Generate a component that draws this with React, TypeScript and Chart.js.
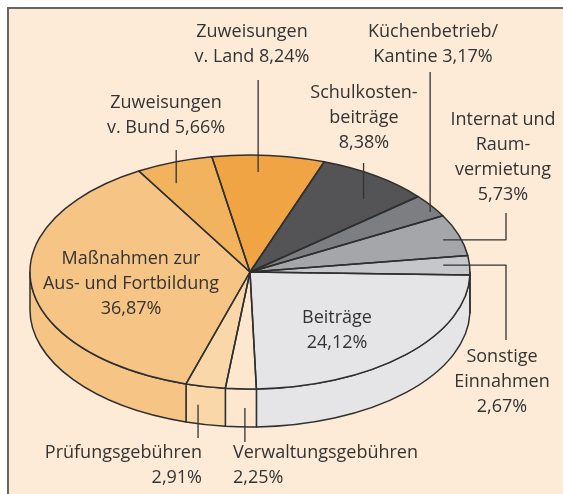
import React, { useEffect, useRef } from "react";
import { Chart, registerables } from "chart.js";

Chart.register(...registerables);

// ---------- data ----------
const categories = [
  "Beiträge",
  "Verwaltungsgebühren",
  "Prüfungsgebühren",
  "Maßnahmen zur Aus- und Fortbildung",
  "Zuweisungen v. Bund",
  "Zuweisungen v. Land",
  "Schulkostenbeiträge",
  "Küchenbetrieb/Kantine",
  "Internat und Raumvermietung",
  "Sonstige Einnahmen",
];
const shares = [24.12, 2.25, 2.91, 36.87, 5.66, 8.24, 8.38, 3.17, 5.73, 2.67];
const labelTexts: string[][] = [
  ["Beiträge", "24,12%"],
  ["Verwaltungsgebühren", "2,25%"],
  ["Prüfungsgebühren", "2,91%"],
  ["Maßnahmen zur", "Aus- und Fortbildung", "36,87%"],
  ["Zuweisungen", "v. Bund 5,66%"],
  ["Zuweisungen", "v. Land 8,24%"],
  ["Schulkosten-", "beiträge", "8,38%"],
  ["Küchenbetrieb/", "Kantine 3,17%"],
  ["Internat und", "Raum-", "vermietung", "5,73%"],
  ["Sonstige", "Einnahmen", "2,67%"],
];

// ---------- styles / layout ----------
const sliceColors = [
  "#e5e5e8",
  "#fde8cf",
  "#f9d7a8",
  "#f6c586",
  "#f2b35f",
  "#f0a443",
  "#545457",
  "#7d7e81",
  "#a5a6a9",
  "#c6c7ca",
];
const W = 563;
const H = 494;
const TILT = 117 / 220;
const DEPTH = 38;
const EDGE = "#2f2f2f";
const TEXT = "#333333";
const FONT = '18px "Open Sans"';
const LINE_H = 25;

type Lead = { t: number; r?: number; side?: number; to: number; elbow?: number };
type LabelPos = { x: number; y: number; align: CanvasTextAlign; lead?: Lead };
const labelLayout: LabelPos[] = [
  { x: 337, y: 318, align: "center" },
  { x: 233, y: 453, align: "left", lead: { t: 0.37, side: 0.5, to: 442 } },
  { x: 202, y: 453, align: "right", lead: { t: 0.69, side: 0.5, to: 438 } },
  { x: 131, y: 259, align: "center" },
  { x: 166, y: 103, align: "center", lead: { t: 0.32, r: 0.83, to: 150 } },
  { x: 252, y: 32, align: "center", lead: { t: 0.42, r: 0.856, to: 80 } },
  { x: 364, y: 93, align: "center", lead: { t: 0.66, r: 0.81, to: 163 } },
  { x: 433, y: 32, align: "center", lead: { t: 0.71, r: 0.966, to: 72 } },
  { x: 503, y: 120, align: "center", lead: { t: 0.55, r: 0.92, to: 213, elbow: 506 } },
  { x: 502, y: 357, align: "center", lead: { t: 0.44, r: 0.88, to: 340, elbow: 506 } },
];

function arcGeom(el: any) {
  const p = el.getProps(["x", "y", "startAngle", "endAngle", "outerRadius"], true);
  return { cx: p.x, cy: p.y, rx: p.outerRadius, ry: p.outerRadius * TILT, s: p.startAngle, e: p.endAngle };
}

const pie3d = {
  id: "pie3d",
  beforeDatasetsDraw(chart: any) {
    const ctx: CanvasRenderingContext2D = chart.ctx;
    const arcs = chart.getDatasetMeta(0).data;
    ctx.save();
    ctx.strokeStyle = EDGE;
    ctx.lineWidth = 1.5;
    ctx.lineJoin = "round";
    arcs.forEach((el: any, i: number) => {
      const g = arcGeom(el);
      for (let k = -1; k <= 2; k++) {
        const lo = Math.max(g.s, k * 2 * Math.PI);
        const hi = Math.min(g.e, k * 2 * Math.PI + Math.PI);
        if (hi <= lo) continue;
        ctx.beginPath();
        ctx.ellipse(g.cx, g.cy, g.rx, g.ry, 0, lo, hi, false);
        ctx.lineTo(g.cx + g.rx * Math.cos(hi), g.cy + g.ry * Math.sin(hi) + DEPTH);
        ctx.ellipse(g.cx, g.cy + DEPTH, g.rx, g.ry, 0, hi, lo, true);
        ctx.closePath();
        ctx.fillStyle = sliceColors[i];
        ctx.fill();
        ctx.stroke();
      }
    });
    ctx.restore();
    // squash the library-drawn top faces
    const cy = arcs.length ? arcGeom(arcs[0]).cy : H / 2;
    ctx.save();
    ctx.translate(0, cy);
    ctx.scale(1, TILT);
    ctx.translate(0, -cy);
  },
  afterDatasetsDraw(chart: any) {
    const ctx: CanvasRenderingContext2D = chart.ctx;
    ctx.restore();
    const arcs = chart.getDatasetMeta(0).data;
    ctx.save();
    ctx.strokeStyle = EDGE;
    ctx.lineWidth = 1.5;
    ctx.lineJoin = "round";
    arcs.forEach((el: any) => {
      const g = arcGeom(el);
      ctx.beginPath();
      ctx.moveTo(g.cx, g.cy);
      ctx.lineTo(g.cx + g.rx * Math.cos(g.s), g.cy + g.ry * Math.sin(g.s));
      ctx.ellipse(g.cx, g.cy, g.rx, g.ry, 0, g.s, g.e, false);
      ctx.closePath();
      ctx.stroke();
    });

    // labels + leaders
    ctx.font = FONT;
    ctx.fillStyle = TEXT;
    ctx.textBaseline = "middle";
    ctx.lineWidth = 1.3;
    ctx.strokeStyle = "#333";
    labelLayout.forEach((lp, i) => {
      ctx.textAlign = lp.align;
      labelTexts[i].forEach((line, j) => ctx.fillText(line, lp.x, lp.y + j * LINE_H));
      const ld = lp.lead;
      if (!ld || !arcs[i]) return;
      const g = arcGeom(arcs[i]);
      const a = g.s + ld.t * (g.e - g.s);
      let ax: number, ay: number;
      if (ld.side !== undefined) {
        ax = g.cx + g.rx * Math.cos(a);
        ay = g.cy + g.ry * Math.sin(a) + ld.side * DEPTH;
      } else {
        const r = ld.r ?? 0.8;
        ax = g.cx + g.rx * r * Math.cos(a);
        ay = g.cy + g.ry * r * Math.sin(a);
      }
      ctx.beginPath();
      ctx.moveTo(ax, ay);
      if (ld.elbow !== undefined) {
        ctx.lineTo(ld.elbow, ay);
        ctx.lineTo(ld.elbow, ld.to);
      } else {
        ctx.lineTo(ax, ld.to);
      }
      ctx.stroke();
    });
    ctx.restore();
  },
};

export default function App() {
  const ref = useRef<HTMLCanvasElement | null>(null);
  useEffect(() => {
    if (!ref.current) return;
    const chart = new Chart(ref.current, {
      type: "pie",
      data: {
        labels: categories,
        datasets: [
          {
            data: shares,
            backgroundColor: sliceColors,
            borderWidth: 0,
            clip: false as any,
          },
        ],
      },
      options: {
        animation: false,
        responsive: false,
        rotation: 91.5,
        layout: { padding: { left: 30, right: W - 470, top: 52, bottom: H - 492 } },
        plugins: { legend: { display: false }, tooltip: { enabled: false } },
        events: [],
      },
      plugins: [pie3d],
    });
    return () => chart.destroy();
  }, []);

  return (
    <div style={{ position: "fixed", left: 0, top: 0, width: W, height: H, background: "#fff", overflow: "hidden" }}>
      <div
        style={{
          position: "absolute",
          left: 7,
          top: 7,
          right: 0,
          bottom: 0,
          background: "#fdebd7",
          borderLeft: "2px solid #666",
          borderTop: "2px solid #666",
        }}
      />
      <canvas ref={ref} width={W} height={H} style={{ position: "absolute", left: 0, top: 0, width: W, height: H }} />
    </div>
  );
}
